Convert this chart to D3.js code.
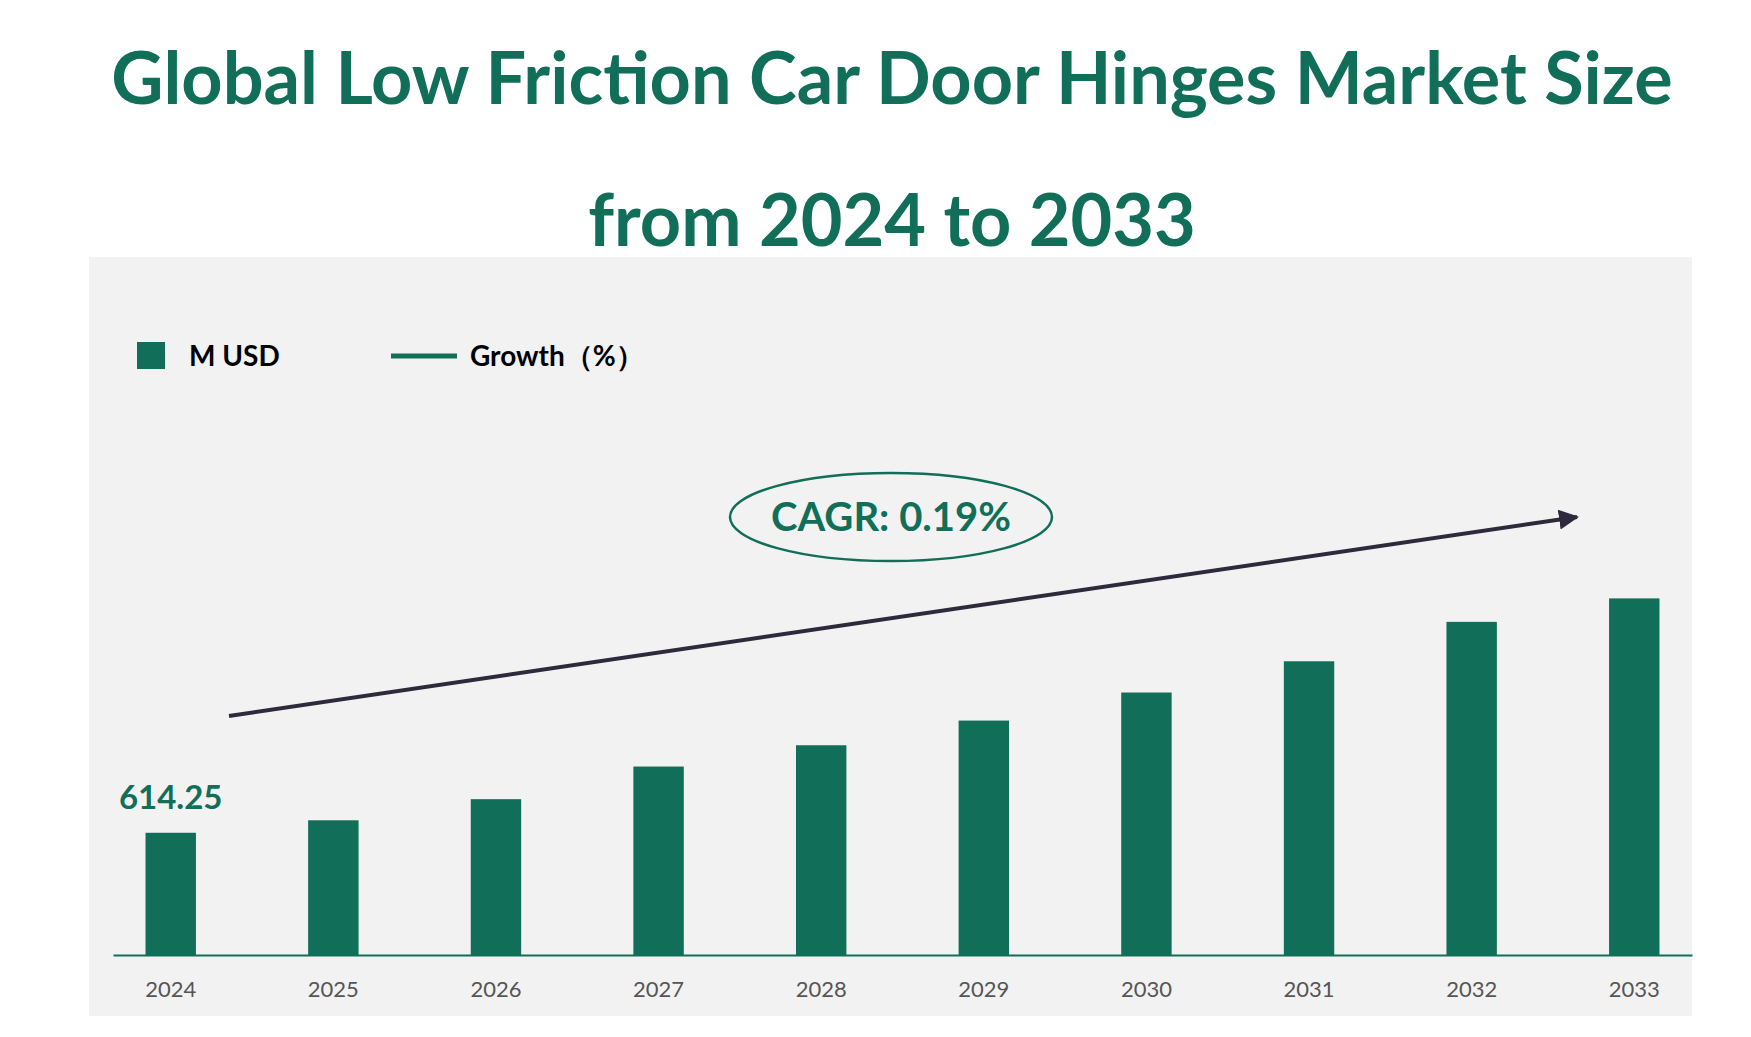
<!DOCTYPE html>
<html>
<head>
<meta charset="utf-8">
<script src="https://cdn.jsdelivr.net/npm/d3@7"></script>
<style>
  body { margin: 0; background: #fff; }
  text { font-family: Lato, "Open Sans", sans-serif; }
</style>
</head>
<body>
<svg id="chart" width="1751" height="1037"></svg>
<script>
// data
const years = ['2024', '2025', '2026', '2027', '2028', '2029', '2030', '2031', '2032', '2033']
const marketSize = [614.25, 677, 783, 947, 1054, 1178, 1319, 1476, 1674, 1792]
const cagrLabel = 'CAGR: 0.19%'

const GREEN = '#116e58'
let svg = d3.select('#chart')

// title
svg.append('text').attr('x', 892).attr('y', 104).attr('text-anchor', 'middle')
  .attr('font-size', 72).attr('font-weight', 'bold').attr('fill', GREEN)
  .text('Global Low Friction Car Door Hinges Market Size')
svg.append('text').attr('x', 892).attr('y', 246).attr('text-anchor', 'middle')
  .attr('font-size', 72).attr('font-weight', 'bold').attr('fill', GREEN)
  .text('from 2024 to 2033')

// panel
svg.append('rect').attr('x', 89).attr('y', 257).attr('width', 1603).attr('height', 759)
  .attr('fill', '#f2f2f2')

let x = d3.scaleBand().domain(years).range([113, 1692]).paddingInner(0.69).paddingOuter(0.2)
let y = d3.scaleLinear().domain([0, 2000]).range([955, 955 - 398])

svg.selectAll('.bar').data(marketSize).enter().append('rect')
  .attr('x', (d, i) => x(years[i]))
  .attr('y', d => y(d))
  .attr('width', x.bandwidth())
  .attr('height', d => y(0) - y(d))
  .attr('fill', GREEN)

let xAxis = svg.append('g').attr('transform', 'translate(0,955)')
  .call(d3.axisBottom(x).tickSize(0).tickPadding(26))
xAxis.select('.domain').attr('stroke', GREEN).attr('stroke-width', 2)
xAxis.selectAll('text').attr('font-size', 22).attr('fill', '#555')
  .style('font-family', 'Lato, sans-serif')

// first value label
svg.append('text').attr('x', x(years[0]) + x.bandwidth() / 2).attr('y', y(marketSize[0]) - 24)
  .attr('text-anchor', 'middle').attr('font-size', 33).attr('font-weight', 'bold')
  .attr('fill', GREEN).text(marketSize[0].toFixed(2))

// legend
svg.append('rect').attr('x', 137).attr('y', 342).attr('width', 28).attr('height', 27).attr('fill', GREEN)
svg.append('text').attr('x', 189).attr('y', 366).attr('font-size', 28).attr('font-weight', 'bold')
  .text('M USD')
svg.append('line').attr('x1', 391).attr('x2', 457).attr('y1', 356).attr('y2', 356)
  .attr('stroke', GREEN).attr('stroke-width', 5)
svg.append('text').attr('x', 470).attr('y', 366).attr('font-size', 28).attr('font-weight', 'bold')
  .text('Growth（%）')

// trend arrow
svg.append('defs').append('marker').attr('id', 'arrow')
  .attr('viewBox', '0 0 10 10').attr('refX', 9).attr('refY', 5)
  .attr('markerWidth', 5).attr('markerHeight', 5).attr('orient', 'auto')
  .append('path').attr('d', 'M0,0 L10,5 L0,10 z').attr('fill', '#2e2a3c')
svg.append('line').attr('x1', 229).attr('y1', 716).attr('x2', 1577).attr('y2', 517)
  .attr('stroke', '#2e2a3c').attr('stroke-width', 4).attr('marker-end', 'url(#arrow)')

// CAGR bubble
svg.append('ellipse').attr('cx', 891).attr('cy', 517).attr('rx', 161).attr('ry', 44)
  .attr('fill', '#f2f2f2').attr('stroke', GREEN).attr('stroke-width', 2.5)
svg.append('text').attr('x', 891).attr('y', 531).attr('text-anchor', 'middle')
  .attr('font-size', 40).attr('font-weight', 'bold').attr('fill', GREEN).text(cagrLabel)
</script>
</body>
</html>
